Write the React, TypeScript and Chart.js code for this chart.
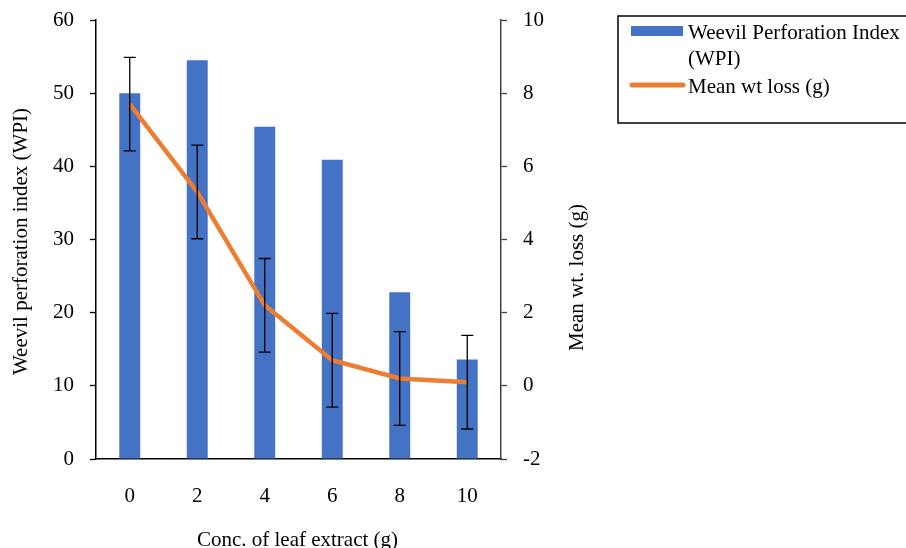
import React, { useEffect, useRef } from "react";
import { Chart, registerables } from "chart.js";

Chart.register(...registerables);

const categories = ["0", "2", "4", "6", "8", "10"];
const wpiValues = [50, 54.5, 45.4, 40.9, 22.8, 13.6];
const wtLossValues = [7.7, 5.3, 2.2, 0.7, 0.2, 0.1];
const wtLossErrors = [1.28, 1.28, 1.28, 1.28, 1.28, 1.28];
const wpiLabel = ["Weevil Perforation Index", "(WPI)"];
const lossLabel = "Mean wt loss (g)";
const leftTitle = "Weevil perforation index (WPI)";
const rightTitle = "Mean wt. loss (g)";
const xTitle = "Conc. of leaf extract (g)";

const FONT = "'Liberation Serif', 'Times New Roman', serif";
const FS = 21;
const BLUE = "#4472C4";
const ORANGE = "#ED7D31";

const errorBarPlugin = {
  id: "errorBars",
  afterDatasetsDraw(chart: any) {
    const meta = chart.getDatasetMeta(1);
    const yScale = chart.scales.y1;
    const ctx = chart.ctx;
    ctx.save();
    ctx.strokeStyle = "#000";
    ctx.lineWidth = 1.3;
    meta.data.forEach((pt: any, i: number) => {
      const v = wtLossValues[i];
      const e = wtLossErrors[i];
      const yTop = yScale.getPixelForValue(v + e);
      const yBot = yScale.getPixelForValue(v - e);
      const x = pt.x;
      ctx.beginPath();
      ctx.moveTo(x, yTop);
      ctx.lineTo(x, yBot);
      ctx.moveTo(x - 6, yTop);
      ctx.lineTo(x + 6, yTop);
      ctx.moveTo(x - 6, yBot);
      ctx.lineTo(x + 6, yBot);
      ctx.stroke();
    });
    ctx.restore();
  },
};

const decorPlugin = {
  id: "decor",
  afterDraw(chart: any) {
    const ctx = chart.ctx;
    const area = chart.chartArea;
    ctx.save();
    ctx.fillStyle = "#000";
    ctx.font = `${FS}px ${FONT}`;
    // x title
    ctx.textAlign = "center";
    ctx.textBaseline = "alphabetic";
    ctx.fillText(xTitle, (area.left + area.right) / 2 - 1, area.bottom + 87);
    // left title
    ctx.save();
    ctx.translate(21, (area.top + area.bottom) / 2 + 2);
    ctx.rotate(-Math.PI / 2);
    ctx.textBaseline = "middle";
    ctx.fillText(leftTitle, 0, 0);
    ctx.restore();
    // right title
    ctx.save();
    ctx.translate(area.right + 76, (area.top + area.bottom) / 2 + 38);
    ctx.rotate(-Math.PI / 2);
    ctx.textBaseline = "middle";
    ctx.fillText(rightTitle, 0, 0);
    ctx.restore();

    // legend
    const lx = 618;
    const ly = 16;
    ctx.strokeStyle = "#000";
    ctx.lineWidth = 1.5;
    ctx.strokeRect(lx, ly, 320, 107);
    ctx.fillStyle = BLUE;
    ctx.fillRect(lx + 13, ly + 10, 52, 10);
    ctx.strokeStyle = ORANGE;
    ctx.lineWidth = 5;
    ctx.lineCap = "round";
    ctx.beginPath();
    ctx.moveTo(lx + 14, ly + 69);
    ctx.lineTo(lx + 65, ly + 69);
    ctx.stroke();
    ctx.fillStyle = "#000";
    ctx.textAlign = "left";
    ctx.textBaseline = "middle";
    ctx.fillText(wpiLabel[0], lx + 70, ly + 17);
    ctx.fillText(wpiLabel[1], lx + 70, ly + 43);
    ctx.fillText(lossLabel, lx + 70, ly + 71);
    ctx.restore();
  },
};

export default function App() {
  const ref = useRef<HTMLCanvasElement | null>(null);
  useEffect(() => {
    if (!ref.current) return;
    const chart = new Chart(ref.current, {
      type: "bar",
      data: {
        labels: categories,
        datasets: [
          {
            type: "bar",
            label: wpiLabel.join(" "),
            data: wpiValues,
            backgroundColor: BLUE,
            yAxisID: "y",
            categoryPercentage: 1,
            barPercentage: 0.31,
            order: 2,
          },
          {
            type: "line",
            label: lossLabel,
            data: wtLossValues,
            borderColor: ORANGE,
            backgroundColor: ORANGE,
            borderWidth: 4.5,
            pointRadius: 0,
            tension: 0,
            yAxisID: "y1",
            order: 1,
          } as any,
        ],
      },
      options: {
        animation: false,
        responsive: false,
        layout: { padding: { top: 20, left: 0, right: 0, bottom: 0 } },
        plugins: {
          legend: { display: false },
          tooltip: { enabled: false },
        },
        scales: {
          x: {
            type: "category",
            offset: true,
            grid: { display: false, drawTicks: false },
            border: { display: true, color: "#000", width: 1.5 },
            ticks: {
              color: "#000",
              font: { family: FONT, size: FS },
              padding: 25,
            },
            afterFit: (s: any) => {
              s.height = 89;
              s.paddingLeft = 0;
              s.paddingRight = 0;
            },
          },
          y: {
            position: "left",
            min: 0,
            max: 60,
            ticks: {
              stepSize: 10,
              color: "#000",
              font: { family: FONT, size: FS },
              padding: 16,
            },
            grid: { drawOnChartArea: false, tickLength: 6, color: "#000", tickWidth: 1.3 },
            border: { display: true, color: "#000", width: 1.5 },
            afterFit: (s: any) => {
              s.width = 96;
              s.paddingTop = 0;
              s.paddingBottom = 0;
            },
          },
          y1: {
            position: "right",
            min: -2,
            max: 10,
            ticks: {
              stepSize: 2,
              color: "#000",
              font: { family: FONT, size: FS },
              padding: 16,
            },
            grid: { drawOnChartArea: false, tickLength: 6, color: "#404040", tickWidth: 1.3 },
            border: { display: true, color: "#404040", width: 1.5 },
            afterFit: (s: any) => {
              s.width = 405;
              s.paddingTop = 0;
              s.paddingBottom = 0;
            },
          },
        },
      },
      plugins: [errorBarPlugin, decorPlugin],
    });
    return () => chart.destroy();
  }, []);
  return (
    <div style={{ position: "fixed", left: 0, top: 0, width: 906, height: 548, background: "#fff" }}>
      <canvas ref={ref} width={906} height={548} style={{ display: "block" }} />
    </div>
  );
}
